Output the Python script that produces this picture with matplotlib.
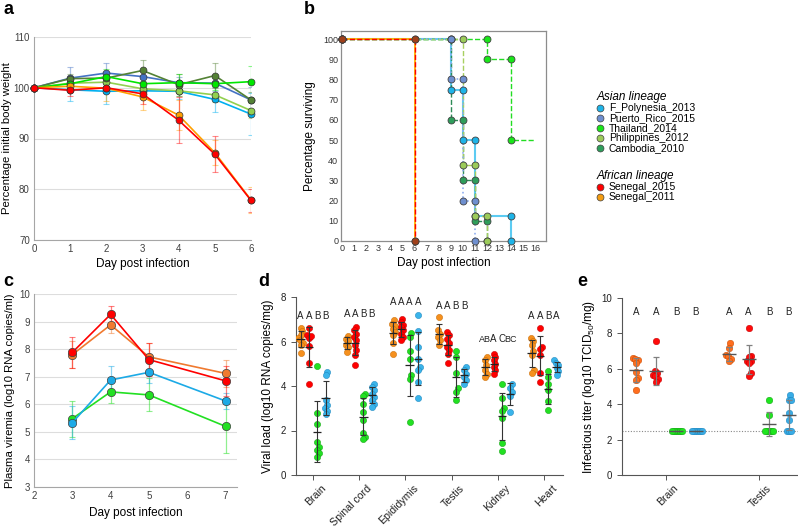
import numpy as np
import matplotlib
matplotlib.use('Agg')
import matplotlib.pyplot as plt
from matplotlib.lines import Line2D
from matplotlib.transforms import ScaledTranslation

plt.rcParams['font.family'] = ['Liberation Sans', 'DejaVu Sans']
plt.rcParams['mathtext.fontset'] = 'custom'
plt.rcParams['mathtext.rm'] = 'Liberation Sans'
plt.rcParams['mathtext.it'] = 'Liberation Sans:italic'

# ------------------------------------------------------------------ data
strains = ['F_Polynesia_2013', 'Puerto_Rico_2015', 'Thailand_2014',
           'Philippines_2012', 'Cambodia_2010', 'Senegal_2015', 'Senegal_2011']

# panel a : body weight
days_a = [0, 1, 2, 3, 4, 5, 6]
weight_fp = [100, 99.6, 99.3, 99.4, 99.3, 97.7, 94.8]
weight_pr = [100, 101.9, 102.9, 102.2, 101.0, 100.9, 97.6]
weight_th = [100, 100.8, 102.2, 100.8, 101.0, 100.8, 101.2]
weight_ph = [100, 100.9, 101.1, 99.8, 99.4, 98.6, 95.5]
weight_ca = [100, 101.8, 101.9, 103.4, 100.6, 102.4, 97.6]
weight_s15 = [100, 99.5, 100.0, 98.8, 93.6, 86.9, 77.8]
weight_s11 = [100, 100.3, 99.9, 98.2, 94.6, 87.2, 77.9]
err_fp = [0, 2.2, 2.5, 1.5, 1.5, 2.5, 4.2]
err_pr = [0, 2.2, 2.0, 1.5, 1.2, 1.5, 2.5]
err_th = [0, 1.3, 1.5, 1.5, 1.8, 1.2, 3.0]
err_ph = [0, 1.0, 1.0, 1.0, 1.0, 1.5, 1.5]
err_ca = [0, 1.0, 1.2, 2.0, 2.2, 2.5, 1.5]
err_s15 = [0, 1.2, 1.0, 2.0, 4.5, 3.5, 2.2]
err_s11 = [0, 1.0, 2.5, 2.5, 3.0, 2.5, 2.5]

# panel b : survival (event days, % surviving after event)
surv_t_fp = [0, 9, 10, 11, 14];  surv_s_fp = [100, 75, 50, 12.5, 0]
surv_t_pr = [0, 9, 10, 11];      surv_s_pr = [100, 80, 20, 0]
surv_t_th = [0, 12, 14];         surv_s_th = [100, 90, 50]
surv_end_th = 16
surv_t_ph = [0, 10, 11, 12];     surv_s_ph = [100, 37.5, 12.5, 0]
surv_t_ca = [0, 9, 10, 11, 12];  surv_s_ca = [100, 60, 30, 10, 0]
surv_t_s15 = [0, 6];             surv_s_s15 = [100, 0]
surv_t_s11 = [0, 6];             surv_s_s11 = [100, 0]

# panel c : plasma viremia
days_c = [3, 4, 5, 7]
vir_s15 = [7.88, 9.26, 7.62, 6.85]; vir_s15_err = [0.55, 0.30, 0.60, 0.55]
vir_s11 = [7.80, 8.88, 7.72, 7.12]; vir_s11_err = [0.50, 0.30, 0.50, 0.50]
vir_fp = [5.33, 6.88, 7.16, 6.12];  vir_fp_err = [0.60, 0.50, 0.40, 0.30]
vir_th = [5.48, 6.45, 6.34, 5.20];  vir_th_err = [0.65, 0.40, 0.60, 0.95]

# panel d : viral load in organs (order: Senegal_2011, Senegal_2015, Thailand_2014, F_Polynesia_2013)
organs = ['Brain', 'Spinal cord', 'Epididymis', 'Testis', 'Kidney', 'Heart']
load_s11 = [[6.61, 6.46, 6.31, 6.16, 6.05, 5.95, 5.83, 5.49],
            [6.25, 6.13, 6.01, 5.86, 5.75, 5.53],
            [6.95, 6.80, 6.70, 6.58, 6.43, 6.28, 5.95, 5.46],
            [7.10, 6.50, 6.35, 6.20, 6.05, 5.83],
            [5.31, 5.16, 4.93, 4.71, 4.56, 4.41],
            [6.16, 6.01, 5.83, 5.56, 5.38, 4.71, 4.60]]
load_s15 = [[6.61, 6.28, 6.16, 6.25, 5.78, 5.05, 4.07],
            [6.65, 6.50, 6.35, 6.20, 6.05, 5.83, 5.61, 5.41, 4.96],
            [7.03, 6.88, 6.76, 6.65, 6.50, 6.35, 6.20, 6.05],
            [6.43, 6.28, 6.13, 5.95, 5.75, 5.61, 5.46, 5.05],
            [5.43, 5.31, 5.16, 5.01, 4.86, 4.71, 4.56],
            [6.62, 5.75, 5.68, 5.38, 4.60, 4.19]]
load_th = [[4.90, 2.77, 2.30, 1.49, 1.27, 1.12, 0.97, 0.82],
           [3.66, 3.56, 3.21, 2.84, 2.47, 1.87, 1.72, 1.61],
           [6.38, 6.20, 5.56, 5.20, 4.48, 4.30, 2.36],
           [5.58, 5.31, 4.60, 3.89, 3.74, 3.36],
           [4.08, 3.44, 2.99, 2.87, 2.57, 1.46, 1.09],
           [4.66, 4.41, 4.07, 3.81, 3.32, 2.91]]
load_fp = [[4.63, 4.51, 3.36, 3.14, 2.99, 2.87, 2.72],
           [4.11, 3.96, 3.81, 3.66, 3.51, 3.36, 3.21, 3.06],
           [7.20, 6.47, 5.75, 5.23, 4.86, 4.71, 4.19, 3.47],
           [4.86, 4.71, 4.56, 4.41, 4.26, 4.07],
           [4.11, 3.92, 3.74, 3.56, 2.81],
           [5.16, 5.05, 4.93, 4.81, 4.66, 4.51]]
letters_d = [['A', 'A', 'B', 'B'], ['A', 'A', 'B', 'B'], ['A', 'A', 'A', 'A'],
             ['A', 'A', 'B', 'B'], ['AB', 'A', 'C', 'BC'], ['A', 'A', 'B', 'A']]
letter_y_d = [7.14, 7.22, 7.77, 7.58, 6.10, 7.13]

# panel e : infectious titer
organs_e = ['Brain', 'Testis']
titer_s11 = [[6.60, 6.50, 6.57, 6.32, 5.81, 5.47, 5.38, 4.81],
             [7.45, 7.17, 6.79, 6.70, 6.57, 6.42]]
titer_s15 = [[7.55, 5.89, 5.75, 5.66, 5.57, 5.43, 5.28],
             [8.30, 6.74, 6.64, 6.45, 6.42, 6.32, 5.75, 5.62]]
titer_th = [[2.5, 2.5, 2.5, 2.5, 2.5, 2.5],
            [4.21, 3.40, 2.5, 2.5, 2.5, 2.5, 2.5]]
titer_fp = [[2.5, 2.5, 2.5, 2.5, 2.5, 2.5],
            [4.53, 4.25, 4.25, 3.49, 3.11, 2.5, 2.5, 2.5]]
letters_e = [['A', 'A', 'B', 'B'], ['A', 'A', 'B', 'B']]
letter_y_e = 9.2
lod_e = 2.5

# ------------------------------------------------------------------ style
col_a = {'fp': '#00B0F0', 'pr': '#4472C4', 'th': '#00E600', 'ph': '#92D050',
         'ca': '#548235', 's15': '#FF0000', 's11': '#FFA000'}
leg_cols = ['#1EB4E8', '#6E8FCF', '#19E619', '#9CCB5A', '#2E9E5B', '#FF0000', '#F39C12']
grp_cols_d = ['#F5901E', '#FF0000', '#22E022', '#3AB4EA']
grp_edge_d = ['#C86A00', '#C00000', '#10A010', '#1A84BC']
grp_cols_e = ['#FF6E1E', '#FF0A0A', '#1EE61E', '#38ACE6']
grp_edge_e = ['#C84A00', '#C00000', '#10A010', '#1A84BC']

W, H = 798, 528
fig = plt.figure(figsize=(W / 100, H / 100), dpi=100)


def rect(l, t, r, b):
    return [l / W, 1 - b / H, (r - l) / W, (b - t) / H]


def excel_style(ax):
    for s in ['top', 'right']:
        ax.spines[s].set_visible(False)
    for s in ['left', 'bottom']:
        ax.spines[s].set_color('#A6A6A6')
        ax.spines[s].set_linewidth(0.8)
    ax.tick_params(length=0, labelsize=7, colors='#404040', pad=3)
    ax.yaxis.grid(True, color='#DDDDDD', lw=0.8)
    ax.set_axisbelow(True)


# ------------------------------------------------------------------ panel a
axa = fig.add_axes(rect(34, 37, 251, 240))
series_a = [('fp', weight_fp, err_fp), ('pr', weight_pr, err_pr), ('ph', weight_ph, err_ph),
            ('ca', weight_ca, err_ca), ('th', weight_th, err_th), ('s11', weight_s11, err_s11),
            ('s15', weight_s15, err_s15)]
for k, (key, vals, errs) in enumerate(series_a):
    c = col_a[key]
    axa.errorbar(days_a, vals, yerr=errs, fmt='none', ecolor=c, alpha=0.45,
                 elinewidth=0.9, capsize=2, capthick=0.8, zorder=2 + k)
    axa.plot(days_a, vals, color=c, lw=1.2, marker='o', ms=5, mfc=c, mec='#333333',
             mew=0.5, zorder=10 + k, clip_on=False)
excel_style(axa)
axa.set_xlim(0, 6)
axa.set_ylim(70, 110)
axa.set_xticks(days_a)
axa.set_yticks([70, 80, 90, 100, 110])
axa.set_xlabel('Day post infection', fontsize=8.5, labelpad=3)
axa.set_ylabel('Percentage initial body weight', fontsize=8.2, labelpad=1)

# ------------------------------------------------------------------ panel b
axb = fig.add_axes(rect(341, 31, 546, 241))


def km_path(t, s, end=None):
    xs, ys = [t[0]], [s[0]]
    for k in range(1, len(t)):
        xs += [t[k], t[k]]
        ys += [s[k - 1], s[k]]
    nmark = len(xs)
    if end is not None:
        xs.append(end)
        ys.append(s[-1])
    return xs, ys, nmark


surv_series = [
    (surv_t_fp, surv_s_fp, None, '#5CCBF2', '-', 1.5, '#1EB4E8', 2),
    (surv_t_ca, surv_s_ca, None, '#2E8B57', '--', 1.0, '#2E9E5B', 3),
    (surv_t_th, surv_s_th, surv_end_th, '#22DD22', '--', 1.0, '#19E619', 4),
    (surv_t_ph, surv_s_ph, None, '#A8D060', '--', 1.0, '#9CCB5A', 5),
    (surv_t_pr, surv_s_pr, None, '#8FAEF0', ':', 1.2, '#6E8FCF', 6),
    (surv_t_s11, surv_s_s11, None, '#FFB000', '-', 1.3, '#FF9900', 7),
    (surv_t_s15, surv_s_s15, None, '#FF0000', '--', 1.0, '#A0401A', 8),
]
for t, s, end, lc, ls, lw, mc, z in surv_series:
    xs, ys, nm = km_path(t, s, end)
    axb.plot(xs, ys, color=lc, ls=ls, lw=lw, zorder=z, clip_on=False)
    axb.plot(xs[:nm], ys[:nm], ls='none', marker='o', ms=5, mfc=mc, mec='#404040',
             mew=0.6, zorder=z + 10, clip_on=False)
axb.set_xlim(-0.1, 16.9)
axb.set_ylim(0, 104)
axb.set_xticks(range(0, 17))
axb.set_yticks(range(0, 101, 10))
axb.tick_params(length=0, labelsize=6.5, colors='#333333', pad=2)
for s in axb.spines.values():
    s.set_color('#8C8C8C')
    s.set_linewidth(0.9)
axb.set_xlabel('Day post infection', fontsize=8.5, labelpad=3)
axb.set_ylabel('Percentage surviving', fontsize=8.5, labelpad=5)

# legend
asian = [Line2D([], [], ls='none', marker='o', ms=5, mfc=leg_cols[i], mec='#404040', mew=0.5)
         for i in range(5)]
african = [Line2D([], [], ls='none', marker='o', ms=5, mfc=leg_cols[i], mec='#404040', mew=0.5)
           for i in range(5, 7)]
leg_kw = dict(loc='upper left', frameon=False, fontsize=7.5, handlelength=0.7,
              handletextpad=0.5, labelspacing=0.0, borderpad=0.7, borderaxespad=0,
              alignment='left')
l1 = fig.legend(asian, strains[:5], title='Asian lineage',
                bbox_to_anchor=(589 / W, 1 - 84 / H),
                title_fontproperties={'style': 'italic', 'size': 8.5}, **leg_kw)
l2 = fig.legend(african, strains[5:], title='African lineage',
                bbox_to_anchor=(589 / W, 1 - 163 / H),
                title_fontproperties={'style': 'italic', 'size': 8.5}, **leg_kw)

# ------------------------------------------------------------------ panel c
axc = fig.add_axes(rect(34, 294, 237, 487))
series_c = [(vir_th, vir_th_err, '#22E022'), (vir_fp, vir_fp_err, '#1CAAE6'),
            (vir_s11, vir_s11_err, '#F07A30'), (vir_s15, vir_s15_err, '#FF0000')]
for k, (vals, errs, c) in enumerate(series_c):
    axc.errorbar(days_c, vals, yerr=errs, fmt='none', ecolor=c, alpha=0.5,
                 elinewidth=0.9, capsize=2, capthick=0.8, zorder=2 + k)
    axc.plot(days_c, vals, color=c, lw=1.2, marker='o', ms=6, mfc=c, mec='#404040',
             mew=0.5, zorder=10 + k)
excel_style(axc)
axc.set_xlim(2, 7.3)
axc.set_ylim(3, 10)
axc.set_xticks([2, 3, 4, 5, 6, 7])
axc.set_yticks(range(3, 11))
axc.set_xlabel('Day post infection', fontsize=8.5, labelpad=4)
axc.set_ylabel('Plasma viremia (log10 RNA copies/ml)', fontsize=8.2, labelpad=3)


# ------------------------------------------------------------------ swarm helper
def swarm(vals, ypx, dpx):
    vals = np.asarray(vals, float)
    order = np.argsort(vals)
    xs = np.zeros(len(vals))
    placed = []
    for i in order:
        y = vals[i] * ypx
        cands = [0.0]
        for px, py in placed:
            dy = abs(y - py)
            if dy < dpx:
                dx = np.sqrt(dpx ** 2 - dy ** 2)
                cands += [px + dx, px - dx]
        cands.sort(key=abs)
        for cnd in cands:
            if all((cnd - px) ** 2 + (y - py) ** 2 >= dpx ** 2 - 1e-6 for px, py in placed):
                xs[i] = cnd
                break
        placed.append((xs[i], y))
    return xs


def rotate_labels(ax, dx_px):
    ax.set_xticklabels(ax.get_xticklabels(), rotation=45, ha='right', va='center',
                       rotation_mode='anchor')
    off = ScaledTranslation(dx_px / 100, 0, fig.dpi_scale_trans)
    for lab in ax.get_xticklabels():
        lab.set_transform(lab.get_transform() + off)


def dot_style(ax, col):
    for s in ['top', 'right']:
        ax.spines[s].set_visible(False)
    for s in ['left', 'bottom']:
        ax.spines[s].set_color(col)
        ax.spines[s].set_linewidth(0.8)
    ax.tick_params(direction='out', length=3.5, width=0.7, colors=col, labelcolor='#222222',
                   labelsize=7)


# ------------------------------------------------------------------ panel d
axd = fig.add_axes(rect(296, 297, 563, 475))
offs_d = [-0.27, -0.09, 0.09, 0.27]
groups_d = [load_s11, load_s15, load_th, load_fp]
ypx_d, xpx_d = 178 / 8, 46.2
for gi, grp in enumerate(groups_d):
    for oi in range(len(organs)):
        vals = np.array(grp[oi])
        x0 = oi + offs_d[gi]
        sx = swarm(vals, ypx_d, 5.5) * 0.4 / xpx_d
        axd.scatter(x0 + sx, vals, s=20, c=grp_cols_d[gi], edgecolors=grp_edge_d[gi],
                    linewidths=0.35, zorder=3)
        m, sd = vals.mean(), vals.std(ddof=1)
        axd.errorbar([x0], [m], yerr=[sd], fmt='none', ecolor='#333333', elinewidth=0.8,
                     capsize=2.2, capthick=0.8, zorder=4)
        axd.hlines(m, x0 - 0.09, x0 + 0.09, color='#222222', lw=0.9, zorder=5)
        axd.text(x0, letter_y_d[oi], letters_d[oi][gi], ha='center', va='center',
                 fontsize=7 if len(letters_d[oi][gi]) == 1 else 6.5, color='#222222')
axd.set_xlim(-0.37, 5.41)
axd.set_ylim(0, 8)
axd.set_yticks([0, 2, 4, 6, 8])
axd.set_xticks(range(len(organs)))
axd.set_xticklabels(organs)
dot_style(axd, '#555555')
axd.tick_params(axis='x', labelsize=7.6, pad=5)
axd.tick_params(axis='y', labelsize=7)
rotate_labels(axd, 11)
axd.set_ylabel('Viral load (log10 RNA copies/mg)', fontsize=8.5, labelpad=5)

# ------------------------------------------------------------------ panel e
axe = fig.add_axes(rect(622, 298, 798, 475))
offs_e = [-0.32, -0.11, 0.11, 0.32]
groups_e = [titer_s11, titer_s15, titer_th, titer_fp]
ypx_e, xpx_e = 177 / 10, 93
axe.axhline(lod_e, color='#888888', lw=0.8, ls=(0, (1, 1.5)), zorder=1)
for gi, grp in enumerate(groups_e):
    for oi in range(len(organs_e)):
        vals = np.array(grp[oi])
        x0 = oi + offs_e[gi]
        sx = swarm(vals, ypx_e, 5.5) * 0.38 / xpx_e
        axe.scatter(x0 + sx, vals, s=22, c=grp_cols_e[gi], edgecolors=grp_edge_e[gi],
                    linewidths=0.35, zorder=3)
        m, sd = vals.mean(), vals.std(ddof=1)
        axe.errorbar([x0], [m], yerr=[sd], fmt='none', ecolor='#808080', elinewidth=0.9,
                     capsize=2.5, capthick=0.9, zorder=4)
        axe.hlines(m, x0 - 0.075, x0 + 0.075, color='#555555', lw=1.0, zorder=5)
        axe.text(x0, letter_y_e, letters_e[oi][gi], ha='center', va='center',
                 fontsize=7, color='#222222')
axe.set_xlim(-0.473, 1.42)
axe.set_ylim(0, 10)
axe.set_yticks(range(0, 11, 2))
axe.set_xticks(range(len(organs_e)))
axe.set_xticklabels(organs_e)
dot_style(axe, '#555555')
axe.tick_params(axis='x', labelsize=7.6, pad=5)
rotate_labels(axe, 11)
axe.set_ylabel('Infectious titer (log10 TCID$_{50}$/mg)', fontsize=8.5, labelpad=3)

# ------------------------------------------------------------------ panel letters
for lab, x, y in [('a', 8, 10), ('b', 309, 10), ('c', 8, 282), ('d', 264, 282), ('e', 582, 282)]:
    fig.text(x / W, 1 - y / H, lab, fontsize=13, fontweight='bold', ha='center', va='center')

fig.savefig('out.png', dpi=100)
